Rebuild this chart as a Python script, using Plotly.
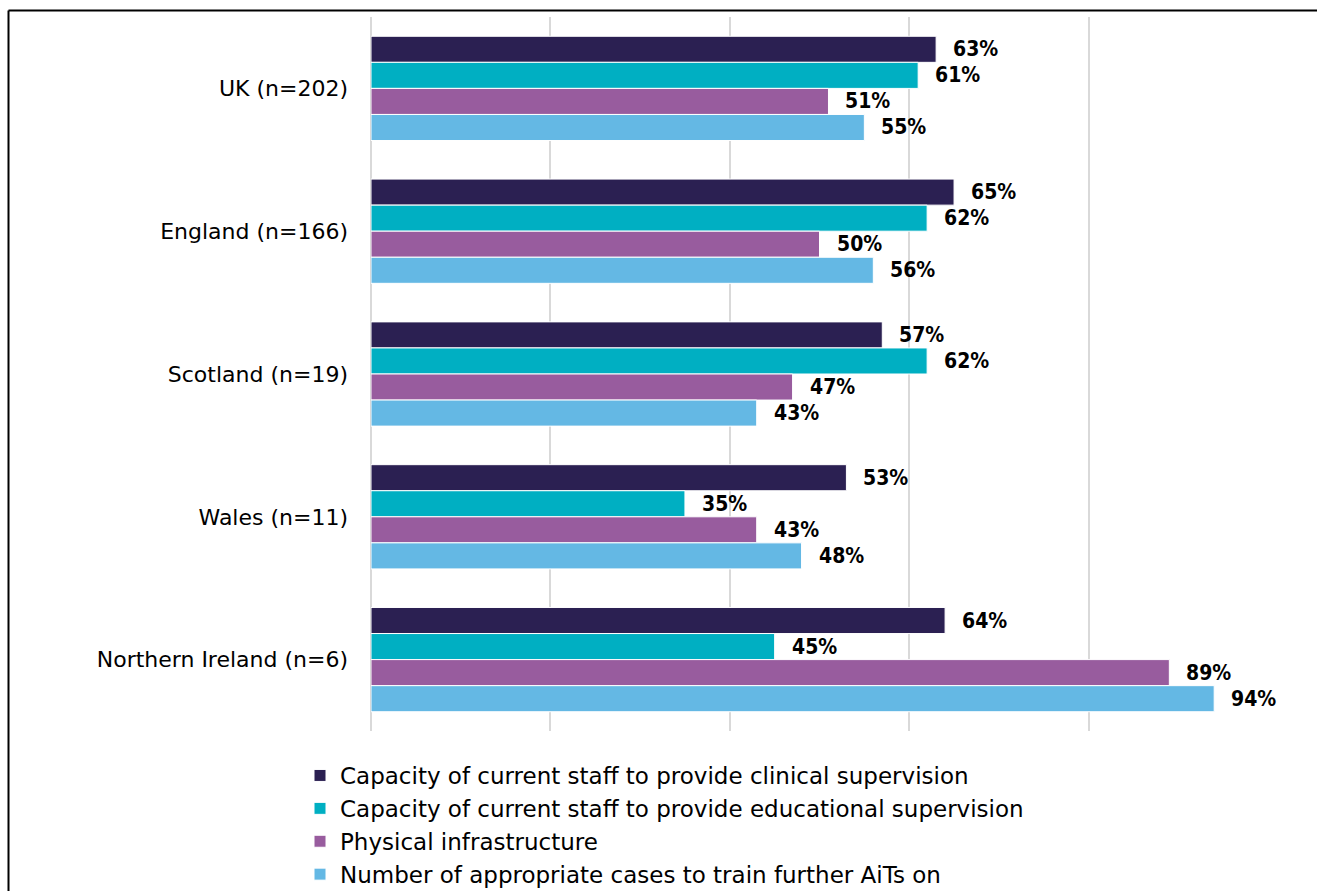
import plotly.graph_objects as go

# Nations surveyed (top to bottom)
categories = ["UK (n=202)", "England (n=166)", "Scotland (n=19)", "Wales (n=11)", "Northern Ireland (n=6)"]

# Share of departments reporting each constraint (%)
clinical_supervision = [63, 65, 57, 53, 64]
educational_supervision = [61, 62, 62, 35, 45]
physical_infrastructure = [51, 50, 47, 43, 89]
appropriate_cases = [55, 56, 43, 48, 94]

series_names = [
    "Capacity of current staff to provide clinical supervision",
    "Capacity of current staff to provide educational supervision",
    "Physical infrastructure",
    "Number of appropriate cases to train further AiTs on",
]
series_values = [clinical_supervision, educational_supervision, physical_infrastructure, appropriate_cases]
series_colors = ["#2B2052", "#00AFC2", "#985C9E", "#64B8E4"]

W, H = 1317, 891
ML, MR, MT, MB = 371, 49, 17, 160
PW, PH = W - ML - MR, H - MT - MB

FONT = "DejaVu Sans, sans-serif"
LABEL_FONT = "DejaVu Sans Condensed, DejaVu Sans, sans-serif"
BARGAP = 0.27

fig = go.Figure()
for i, (name, vals, col) in enumerate(zip(series_names, series_values, series_colors)):
    fig.add_trace(go.Bar(
        y=categories, x=vals, name=name, orientation="h",
        marker=dict(color=col, line=dict(color="white", width=1)),
        legendgroup=f"g{i}",
        hoverinfo="skip",
    ))

# Value labels just past the end of each bar
bw = (1 - BARGAP) / len(series_values)
annotations = []
for j, vals in enumerate(series_values):
    for i, v in enumerate(vals):
        annotations.append(dict(
            x=v, y=i + (j - 1.5) * bw, xref="x", yref="y",
            text=f"<b>{v}%</b>", showarrow=False,
            xanchor="left", yanchor="middle", xshift=15,
            font=dict(family=LABEL_FONT, size=21, color="#000000"),
        ))

# Frame on the left and top edges of the chart
px = lambda p: (p - ML) / PW
py = lambda p: (H - MB - p) / PH
shapes = [
    dict(type="line", xref="paper", yref="paper", x0=px(8.5), x1=px(W + 5), y0=py(10.5), y1=py(10.5),
         line=dict(color="#000000", width=2)),
    dict(type="line", xref="paper", yref="paper", x0=px(8.5), x1=px(8.5), y0=py(10.5), y1=py(H + 5),
         line=dict(color="#000000", width=2)),
]

fig.update_layout(
    width=W, height=H,
    margin=dict(l=ML, r=MR, t=MT, b=MB, pad=0),
    paper_bgcolor="white", plot_bgcolor="white",
    barmode="group", bargap=BARGAP, bargroupgap=0,
    font=dict(family=FONT, size=22, color="#000000"),
    xaxis=dict(range=[0, 100], dtick=20, showticklabels=False, showgrid=True,
               gridcolor="#D9D9D9", gridwidth=2, zeroline=True, zerolinecolor="#D9D9D9",
               zerolinewidth=2, showline=False, fixedrange=True),
    yaxis=dict(autorange="reversed", showgrid=False, showline=False, ticks="",
               ticklabelstandoff=22, tickfont=dict(family=FONT, size=22, color="#000000")),
    legend=dict(x=px(300), y=1 - 754 / H, xref="paper", yref="container",
                xanchor="left", yanchor="top",
                font=dict(family=FONT, size=23, color="#000000"),
                traceorder="grouped", tracegroupgap=0, bgcolor="rgba(0,0,0,0)"),
    annotations=annotations,
    shapes=shapes,
    showlegend=True,
)

fig.write_html("out.html")
